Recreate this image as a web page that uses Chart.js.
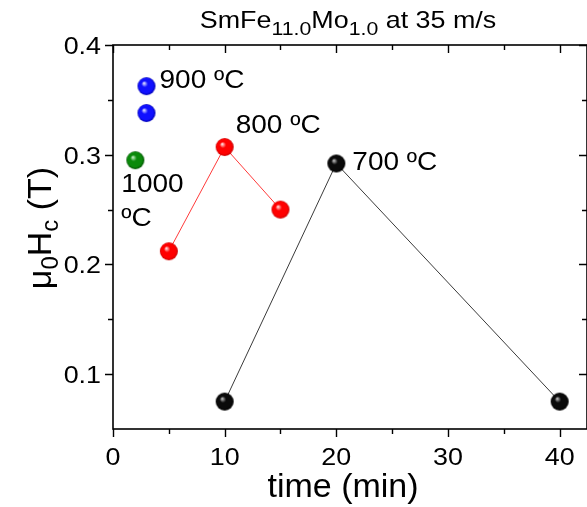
<!DOCTYPE html>
<html>
<head>
<meta charset="utf-8">
<script src="https://cdn.jsdelivr.net/npm/chart.js@4.4.1/dist/chart.umd.min.js"></script>
<style>
  html, body { margin: 0; padding: 0; background: #fff; overflow: hidden; }
  #wrap { width: 587px; height: 507px; }
</style>
</head>
<body>
<div id="wrap"><canvas id="hcChart" width="587" height="507"></canvas></div>
<script>
// coercivity vs annealing time, one series per annealing temperature
const time700 = [10, 20, 40];
const hc700 = [0.075, 0.292, 0.075];
const time800 = [5, 10, 15];
const hc800 = [0.212, 0.307, 0.250];
const time900 = [3, 3];
const hc900 = [0.3625, 0.338];
const time1000 = [2];
const hc1000 = [0.295];

// axis ticks
const xMajor = [0, 10, 20, 30, 40];
const xMinor = [5, 15, 25, 35];
const yMajor = [0.1, 0.2, 0.3, 0.4];
const yMinor = [0.15, 0.25, 0.35];

const FONT = '"Liberation Sans", Arial, sans-serif';
const SX = 1.12; // text is a little wide in this figure

// shaded ball used as point marker
function makeBall(color, edge, hi, r) {
  const c = document.createElement('canvas');
  const size = r * 2 + 2;
  c.width = c.height = size;
  const g = c.getContext('2d');
  const cx = size / 2, cy = size / 2;
  const grad = g.createRadialGradient(cx - r * 0.3, cy - r * 0.35, 0, cx, cy, r);
  grad.addColorStop(0, hi);
  grad.addColorStop(0.35, color);
  grad.addColorStop(0.8, color);
  grad.addColorStop(1, edge);
  g.fillStyle = grad;
  g.beginPath();
  g.arc(cx, cy, r, 0, Math.PI * 2);
  g.fill();
  return c;
}

const ballBlack = makeBall('#0a0a0a', '#000000', '#d8d8d8', 9);
const ballRed = makeBall('#ff0000', '#c80000', '#ffffff', 9);
const ballBlue = makeBall('#1010ff', '#0000b0', '#ffffff', 9);
const ballGreen = makeBall('#0a8a0a', '#005000', '#e0ffe0', 9);

function pts(xs, ys) {
  return xs.map((v, i) => ({ x: v, y: ys[i] }));
}

// temperature labels next to the series, offsets in px from a data point
const tempLabels = [
  { text: '900 ºC', x: 3, y: 0.3625, dx: 13, dy: 2 },
  { text: '800 ºC', x: 10, y: 0.307, dx: 11, dy: -14 },
  { text: '700 ºC', x: 20, y: 0.292, dx: 16, dy: 7 },
  { text: '1000', x: 2, y: 0.295, dx: -14, dy: 32 },
  { text: 'ºC', x: 2, y: 0.295, dx: -14, dy: 66 }
];

// fillText with a horizontal stretch
function wideText(ctx, text, x, y, sx) {
  ctx.save();
  ctx.translate(x, y);
  ctx.scale(sx, 1);
  ctx.fillText(text, 0, 0);
  ctx.restore();
}

function drawRich(ctx, parts, x, y, size, subSize, subShift, sx) {
  let w = 0;
  parts.forEach(p => {
    ctx.font = (p.sub ? subSize : size) + 'px ' + FONT;
    p.w = ctx.measureText(p.t).width * sx;
    w += p.w;
  });
  let cx = x - w / 2;
  ctx.textAlign = 'left';
  parts.forEach(p => {
    ctx.font = (p.sub ? subSize : size) + 'px ' + FONT;
    wideText(ctx, p.t, cx, p.sub ? y + subShift : y, sx);
    cx += p.w;
  });
}

const framePlugin = {
  id: 'frame',
  afterDraw(chart) {
    const { ctx, chartArea: a, scales: { x, y } } = chart;
    ctx.save();
    ctx.strokeStyle = '#000';
    ctx.fillStyle = '#000';

    // box; its right edge sits just past the canvas edge
    ctx.lineWidth = 1.6;
    ctx.strokeRect(a.left, a.top, a.right - a.left, a.bottom - a.top);

    // ticks: outward on left/bottom, inward on top/right
    ctx.lineWidth = 1.4;
    ctx.beginPath();
    const tickX = (vals, len) => vals.forEach(v => {
      const px = Math.round(x.getPixelForValue(v)) + 0.5;
      ctx.moveTo(px, a.bottom); ctx.lineTo(px, a.bottom + len);
      ctx.moveTo(px, a.top); ctx.lineTo(px, a.top + len);
    });
    const tickY = (vals, len) => vals.forEach(v => {
      const py = Math.round(y.getPixelForValue(v)) + 0.5;
      ctx.moveTo(a.left, py); ctx.lineTo(a.left - len, py);
      ctx.moveTo(a.right, py); ctx.lineTo(a.right - len, py);
    });
    tickX(xMajor, 8); tickX(xMinor, 5);
    tickY(yMajor, 8); tickY(yMinor, 5);
    ctx.stroke();

    // tick labels
    ctx.font = '24px ' + FONT;
    ctx.textBaseline = 'alphabetic';
    ctx.textAlign = 'center';
    xMajor.forEach(v => wideText(ctx, String(v), x.getPixelForValue(v), a.bottom + 36, SX));
    ctx.textAlign = 'right';
    yMajor.forEach(v => wideText(ctx, v.toFixed(1), a.left - 12, y.getPixelForValue(v) + 9, SX));

    // axis titles
    ctx.textAlign = 'left';
    ctx.font = '34px ' + FONT;
    const xt = 'time (min)';
    ctx.fillText(xt, x.getPixelForValue(20.6) - ctx.measureText(xt).width / 2, 497);

    ctx.save();
    ctx.translate(51, (a.top + a.bottom) / 2 - 9);
    ctx.rotate(-Math.PI / 2);
    drawRich(ctx, [{ t: 'μ' }, { t: '0', sub: true }, { t: 'H' }, { t: 'c', sub: true }, { t: ' (T)' }],
      0, 0, 34, 24, 7, 1);
    ctx.restore();

    // title
    drawRich(ctx, [{ t: 'SmFe' }, { t: '11.0', sub: true }, { t: 'Mo' }, { t: '1.0', sub: true }, { t: ' at 35 m/s' }],
      348, 28, 24, 19, 7, SX);

    // series labels
    ctx.font = '25px ' + FONT;
    ctx.textAlign = 'left';
    tempLabels.forEach(l => {
      wideText(ctx, l.text, x.getPixelForValue(l.x) + l.dx, y.getPixelForValue(l.y) + l.dy, SX);
    });
    ctx.restore();
  }
};

new Chart(document.getElementById('hcChart'), {
  type: 'scatter',
  data: {
    datasets: [
      { label: '700 ºC', data: pts(time700, hc700), showLine: true, borderColor: '#3a3a3a', borderWidth: 1, pointStyle: ballBlack },
      { label: '800 ºC', data: pts(time800, hc800), showLine: true, borderColor: '#ff3a3a', borderWidth: 1, pointStyle: ballRed },
      { label: '900 ºC', data: pts(time900, hc900), showLine: false, pointStyle: ballBlue },
      { label: '1000 ºC', data: pts(time1000, hc1000), showLine: false, pointStyle: ballGreen }
    ]
  },
  options: {
    responsive: false,
    animation: false,
    clip: false,
    layout: { autoPadding: false, padding: { left: 113, top: 45, right: -4, bottom: 78 } },
    plugins: { legend: { display: false }, tooltip: { enabled: false }, title: { display: false } },
    scales: {
      x: { type: 'linear', min: 0, max: 42.45, display: false },
      y: { type: 'linear', min: 0.05, max: 0.4, display: false }
    }
  },
  plugins: [framePlugin]
});
</script>
</body>
</html>
